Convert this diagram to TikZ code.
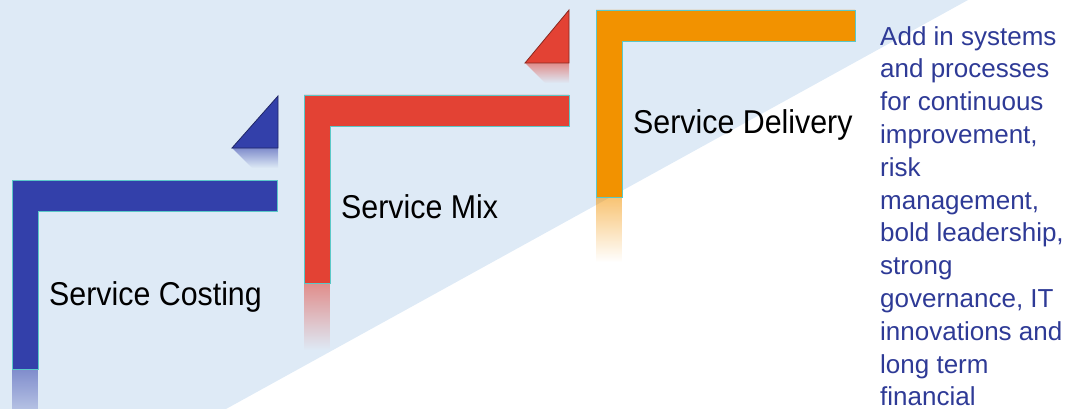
\documentclass[tikz,border=0pt]{standalone}
\usepackage{fontspec}
\usetikzlibrary{fadings}
\newfontfamily\labelfont[FakeStretch=0.92]{Liberation Sans}
\newfontfamily\notefont{Liberation Sans}
\definecolor{bgblue}{RGB}{222,234,246}
\definecolor{stepblue}{RGB}{51,64,170}
\definecolor{stepred}{RGB}{227,66,52}
\definecolor{steporange}{RGB}{242,146,0}
\definecolor{notecol}{RGB}{46,58,150}
\definecolor{rim}{RGB}{90,200,200}
\tikzfading[name=mirror, top color=transparent!45, bottom color=transparent!100]
\begin{document}
\begin{tikzpicture}[x=1pt,y=-1pt,
  stair/.style={fill=#1,draw=rim,line width=0.6pt},
  corner/.style={fill=#1,draw=#1!60!black,line width=0.8pt},
  shine/.style={fill=#1,path fading=mirror},
  label/.style={inner sep=0pt,anchor=base west,font=\labelfont\fontsize{33}{40}\selectfont},
  note/.style={inner sep=0pt,anchor=north west,align=left,text=notecol,
    font=\notefont\fontsize{26}{32.8}\selectfont}]
\useasboundingbox (0,0) rectangle (1083,409);
\clip (0,0) rectangle (1083,409);
\fill[bgblue] (0,0) -- (968,0) -- (226,409) -- (0,409) -- cycle;
\fill[shine=stepblue] (12,369) rectangle (38,440);
\draw[stair=stepblue] (12,180) -- (277,180) -- (277,211) -- (38,211) -- (38,369) -- (12,369) -- cycle;
\fill[shine=stepblue] (232,148) -- (278,148) -- (278,168) -- (252,168) -- cycle;
\draw[corner=stepblue] (278,96) -- (278,148) -- (232,148) -- cycle;
\fill[shine=stepred] (304,283) rectangle (330,350);
\draw[stair=stepred] (304,95) -- (569,95) -- (569,126) -- (330,126) -- (330,283) -- (304,283) -- cycle;
\fill[shine=stepred] (525,63) -- (569,63) -- (569,83) -- (545,83) -- cycle;
\draw[corner=stepred] (569,10) -- (569,63) -- (525,63) -- cycle;
\fill[shine=steporange] (596,197) rectangle (622,262);
\draw[stair=steporange] (596,10) -- (855,10) -- (855,41) -- (622,41) -- (622,197) -- (596,197) -- cycle;
\node[label] (costing) at (49,305) {Service Costing};
\node[label] (mix) at (341,218) {Service Mix};
\node[label] (delivery) at (633,133) {Service Delivery};
\node[note] (notes) at (880,26) {Add in systems\\and processes\\for continuous\\improvement,\\risk\\management,\\bold leadership,\\strong\\governance, IT\\innovations and\\long term\\financial};
\end{tikzpicture}
\end{document}
